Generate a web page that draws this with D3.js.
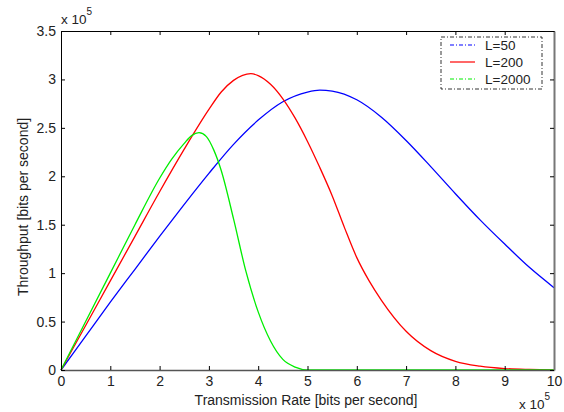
<!DOCTYPE html>
<html>
<head>
<meta charset="utf-8">
<script src="https://cdn.jsdelivr.net/npm/d3@7"></script>
<style>
  body { margin: 0; background: #fff; }
  text { font-family: "Liberation Sans", Arial, sans-serif; fill: #222; }
</style>
</head>
<body>
<script>
// values, x and y in units of 1e5 bits/s
var rateL50 = [0, 0.5, 1, 1.5, 2, 2.5, 3, 3.5, 4, 4.5, 5, 5.25, 5.5, 6, 6.5, 7, 7.5, 8, 8.5, 9, 9.5, 10];
var thrL50 = [0, 0.35, 0.70, 1.04, 1.38, 1.71, 2.03, 2.33, 2.58, 2.77, 2.87, 2.89, 2.88, 2.79, 2.61, 2.37, 2.10, 1.82, 1.55, 1.30, 1.06, 0.85];

var rateL200 = [0, 0.5, 1, 1.5, 2, 2.5, 3, 3.25, 3.5, 3.85, 4, 4.25, 4.5, 4.75, 5, 5.25, 5.5, 5.75, 6, 6.25, 6.5, 7, 7.5, 8, 8.5, 9, 9.5, 10];
var thrL200 = [0, 0.46, 0.92, 1.38, 1.84, 2.28, 2.69, 2.87, 2.99, 3.06, 3.04, 2.95, 2.80, 2.60, 2.36, 2.09, 1.80, 1.47, 1.16, 0.92, 0.72, 0.40, 0.20, 0.09, 0.04, 0.015, 0.005, 0];

var rateL2000 = [0, 0.5, 1, 1.5, 2, 2.25, 2.5, 2.65, 2.8, 2.95, 3.1, 3.25, 3.5, 3.75, 4, 4.25, 4.5, 4.75, 5, 10];
var thrL2000 = [0, 0.50, 1.00, 1.50, 1.98, 2.18, 2.34, 2.42, 2.45, 2.41, 2.27, 2.06, 1.56, 1.02, 0.60, 0.30, 0.11, 0.03, 0, 0];

var seriesNames = ["L=50", "L=200", "L=2000"];
var seriesColors = ["#0000ff", "#ff0000", "#00ee00"];
var xTicks = [0, 1, 2, 3, 4, 5, 6, 7, 8, 9, 10];
var yTicks = [0, 0.5, 1, 1.5, 2, 2.5, 3, 3.5];

var width = 564, height = 412;
var plotL = 61, plotR = 554, plotT = 31, plotB = 370;

var svg = d3.select("body").append("svg")
    .attr("width", width)
    .attr("height", height);

var x = d3.scaleLinear().domain([0, 10]).range([plotL, plotR]);
var y = d3.scaleLinear().domain([0, 3.5]).range([plotB, plotT]);

var series = [
    { name: seriesNames[0], color: seriesColors[0], xs: rateL50, ys: thrL50 },
    { name: seriesNames[1], color: seriesColors[1], xs: rateL200, ys: thrL200 },
    { name: seriesNames[2], color: seriesColors[2], xs: rateL2000, ys: thrL2000 }
];

var line = d3.line()
    .x(function(d) { return x(d[0]); })
    .y(function(d) { return y(d[1]); })
    .curve(d3.curveMonotoneX);

// curves
series.forEach(function(s) {
    svg.append("path")
        .datum(d3.zip(s.xs, s.ys))
        .attr("d", line)
        .attr("fill", "none")
        .attr("stroke", s.color)
        .attr("stroke-width", 1.3);
});

// axes: ticks inside on all four sides
svg.append("g")
    .attr("transform", "translate(0," + plotB + ")")
    .call(d3.axisBottom(x).tickValues(xTicks).tickSizeInner(-4).tickSizeOuter(0).tickPadding(6))
    .call(function(g) {
        g.select(".domain").attr("stroke", "#555").attr("stroke-width", 1.5);
        g.selectAll("text").attr("font-size", 14).attr("fill", "#333").attr("font-family", "Liberation Sans, Arial");
    });

svg.append("g")
    .attr("transform", "translate(0," + plotT + ")")
    .call(d3.axisTop(x).tickValues(xTicks).tickSizeInner(-4).tickSizeOuter(0).tickFormat(""))
    .select(".domain").attr("stroke", "#000");

svg.append("g")
    .attr("transform", "translate(" + plotL + ",0)")
    .call(d3.axisLeft(y).tickValues(yTicks).tickSizeInner(-4).tickSizeOuter(0).tickPadding(5).tickFormat(d3.format("")))
    .call(function(g) {
        g.selectAll("text").attr("font-size", 14).attr("fill", "#333").attr("font-family", "Liberation Sans, Arial");
    });

svg.append("g")
    .attr("transform", "translate(" + plotR + ",0)")
    .call(d3.axisRight(y).tickValues(yTicks).tickSizeInner(-4).tickSizeOuter(0).tickFormat(""))
    .select(".domain").attr("stroke", "#777").attr("stroke-width", 2);

// exponent labels
var exp1 = svg.append("text").attr("x", 61).attr("y", 24).attr("font-size", 13.5);
exp1.append("tspan").text("x 10");
exp1.append("tspan").attr("dy", -9).attr("font-size", 10).text("5");

var exp2 = svg.append("text").attr("x", 519).attr("y", 409).attr("font-size", 13.5);
exp2.append("tspan").text("x 10");
exp2.append("tspan").attr("dy", -9).attr("font-size", 10).text("5");

// axis titles
svg.append("text")
    .attr("x", 306)
    .attr("y", 405)
    .attr("text-anchor", "middle")
    .attr("font-size", 14)
    .text("Transmission Rate [bits per second]");

svg.append("text")
    .attr("transform", "translate(28,207) rotate(-90)")
    .attr("text-anchor", "middle")
    .attr("font-size", 14)
    .text("Throughput [bits per second]");

// legend
var legend = svg.append("g").attr("transform", "translate(441,37)");
legend.append("rect")
    .attr("width", 101).attr("height", 52)
    .attr("fill", "#fff")
    .attr("stroke", "#000")
    .attr("stroke-width", 0.8)
    .attr("stroke-dasharray", "4,2,1,2");

var dashes = ["4,2,1,2", null, "4,2,1,2"];
series.forEach(function(s, i) {
    var ly = 8 + i * 17;
    legend.append("line")
        .attr("x1", 9).attr("x2", 34)
        .attr("y1", ly).attr("y2", ly)
        .attr("stroke", s.color)
        .attr("stroke-width", 1.2)
        .attr("stroke-dasharray", dashes[i]);
    legend.append("text")
        .attr("x", 44).attr("y", ly + 5)
        .attr("font-size", 13.5)
        .attr("fill", "#000")
        .text(s.name);
});
</script>
</body>
</html>
